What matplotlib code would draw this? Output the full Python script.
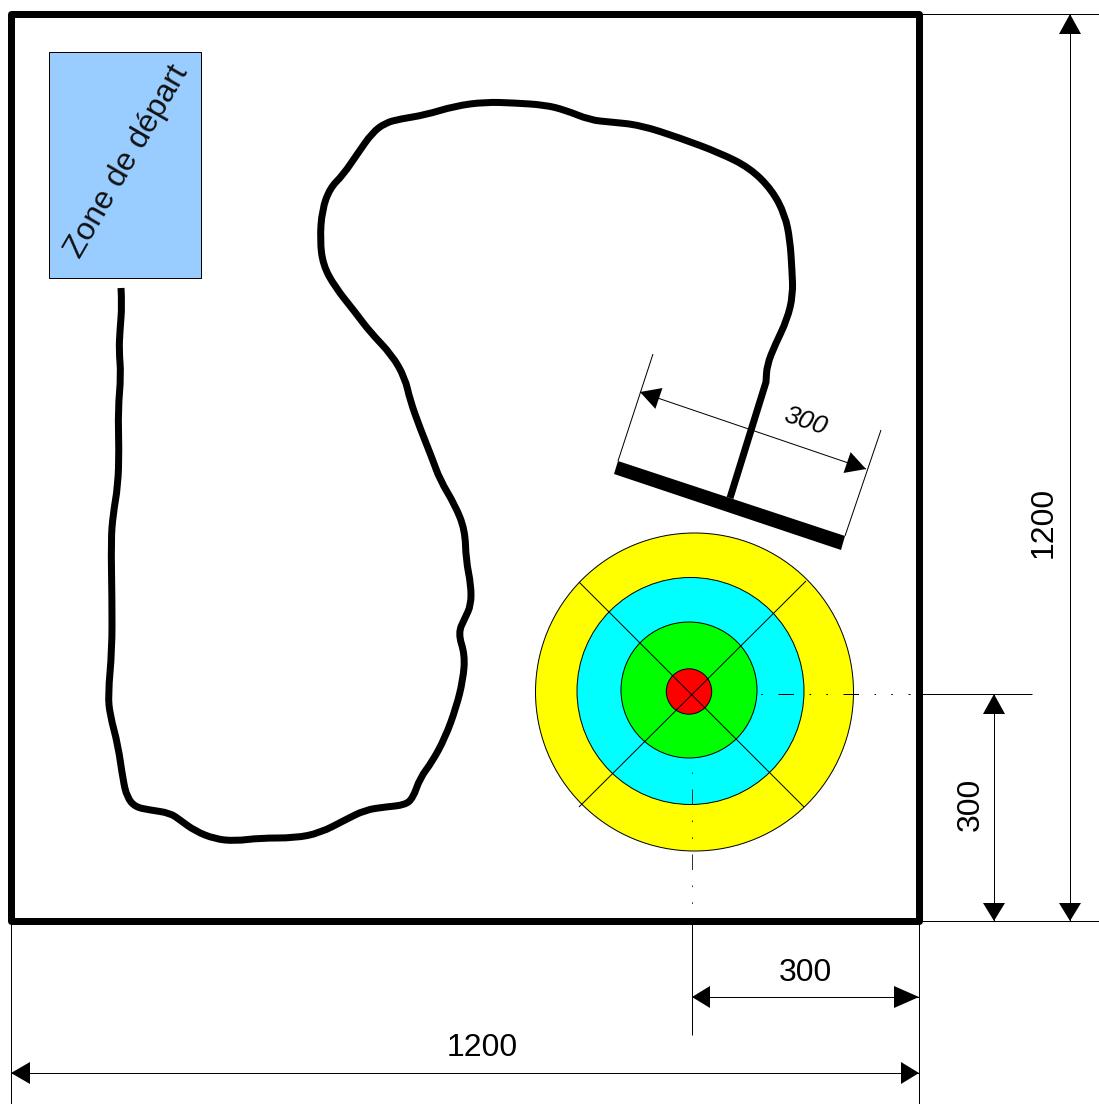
import matplotlib
matplotlib.use("Agg")
import matplotlib.pyplot as plt
import numpy as np
from matplotlib.path import Path
from matplotlib.patches import PathPatch, Circle, Rectangle, Polygon

plt.rcParams['font.family'] = ['Liberation Sans', 'DejaVu Sans']
plt.rcParams['lines.scale_dashes'] = False

W, H = 1099, 1104
PX = 0.72  # points per pixel at dpi 100

track_x = [121,122,120,119,121,118,119,118,113,111,112,112,108,110,118,123,127,135,150,170,180,195,215,235,260,295,320,345,365,385,405,413,420,432,445,456,463,465,458,465,471,471,466,465,455,440,432,420,410,405,392,370,355,335,323,320,322,330,343,358,372,385,400,425,455,485,515,545,565,590,610,640,680,720,750,772,785,790,792,793,787,775,767,766,766]
track_y = [288,305,330,350,375,410,450,485,515,540,600,650,695,715,745,780,797,807,810,813,820,831,839,841,838,838,833,820,810,807,805,798,778,762,738,708,680,655,633,618,605,585,560,530,505,480,458,428,400,378,355,332,312,287,265,240,210,188,175,153,133,123,119,115,106,102,103,105,110,120,122,125,138,153,168,190,215,240,270,295,320,345,365,382,382]
stem_x = [766, 730]
stem_y = [382, 498]

target_cx = [694.5, 690.5, 689, 689]
target_cy = [692, 691, 690, 691.5]
target_r = [159, 113.5, 68, 22.7]
target_colors = ['#ffff00', '#00ffff', '#00ff00', '#ff0000']
cross_x = [[579, 804], [806, 579]]
cross_y = [[582, 807], [581, 807]]

bar_x = [618, 845, 841, 614]
bar_y = [461, 536, 550, 474]

fig = plt.figure(figsize=(W/100, H/100), dpi=100)
ax = fig.add_axes([0, 0, 1, 1])
ax.set_xlim(0, W)
ax.set_ylim(H, 0)
ax.axis('off')


def thin(xs, ys, **kw):
    ax.plot(xs, ys, color='black', lw=1.0*PX, solid_capstyle='butt', **kw)


def head(tip, tail, length=20, width=22):
    tip = np.array(tip, float)
    tail = np.array(tail, float)
    d = (tail - tip) / np.linalg.norm(tail - tip)
    n = np.array([-d[1], d[0]])
    base = tip + d * length
    ax.add_patch(Polygon([tip, base + n*width/2, base - n*width/2],
                         closed=True, fc='black', ec='none', zorder=6))


def dim(a, b, la=20, lb=20):
    thin([a[0], b[0]], [a[1], b[1]], zorder=1)
    head(a, b, la)
    head(b, a, lb)


# start zone
ax.add_patch(Rectangle((49, 52), 151.5, 226, fc='#99ccff', ec='black', lw=1.0*PX, zorder=2))
ax.text(127, 162, 'Zone de départ', fontsize=23, rotation=60, rotation_mode='anchor',
        ha='center', va='center', color='#111111', zorder=3)

# target
for cx, cy, r, c in zip(target_cx, target_cy, target_r, target_colors):
    ax.add_patch(Circle((cx, cy), r, fc=c, ec='black', lw=1.0*PX, zorder=2))
for xs, ys in zip(cross_x, cross_y):
    thin(xs, ys, zorder=3)

# dash-dot centre lines
pattern = tuple(v*PX for v in (15.5, 15.5, 1.6, 15.2, 1.6, 15.6))
ax.plot([760, 910], [694, 694], color='black', lw=1.0*PX, zorder=4,
        linestyle=(47*PX, pattern), dash_capstyle='butt')
ax.plot([692, 692], [772, 910], color='#333333', lw=1.0*PX, zorder=4,
        linestyle=(48*PX, pattern), dash_capstyle='butt')

# track
verts = [(track_x[0], track_y[0])]
codes = [Path.MOVETO]
pts = list(zip(track_x, track_y))
for i in range(1, len(pts) - 1):
    mid = ((pts[i][0] + pts[i+1][0]) / 2, (pts[i][1] + pts[i+1][1]) / 2)
    verts += [pts[i], mid]
    codes += [Path.CURVE3, Path.CURVE3]
verts.append(pts[-1])
codes.append(Path.LINETO)
verts.append((stem_x[1], stem_y[1]))
codes.append(Path.LINETO)
ax.add_patch(PathPatch(Path(verts, codes), fc='none', ec='black', lw=7*PX,
                       joinstyle='round', capstyle='butt', zorder=5))
ax.add_patch(Polygon(list(zip(bar_x, bar_y)), closed=True, fc='black', ec='none', zorder=5))

# frame
ax.add_patch(Rectangle((11, 14), 907.5, 907, fc='none', ec='black', lw=7*PX,
                       joinstyle='round', zorder=7))

# dimensions: slanted
thin([653, 618], [354, 461], zorder=1)
thin([881, 845], [430, 536], zorder=1)
dim((640, 392), (866, 469), 20, 20)
ax.text(805, 421, '300', fontsize=19, style='italic', rotation=-18.5,
        rotation_mode='anchor', ha='center', va='center')

# dimensions: right
thin([922, W], [14, 14])
thin([922, W], [921, 921])
thin([919, 1032], [694, 694])
dim((1070, 14), (1070, 921), 20, 18)
dim((994, 694), (994, 921), 20, 18)
ax.text(1044, 522, '1200', fontsize=23, rotation=90, ha='center', va='center')
ax.text(971, 804, '300', fontsize=23, rotation=90, ha='center', va='center')

# dimensions: bottom
thin([11, 11], [924, H])
thin([919, 919], [924, H])
thin([692, 692], [924, 1035])
dim((692, 997), (919, 997), 18, 25)
dim((11, 1073), (919, 1073), 19, 18)
ax.text(805, 973, '300', fontsize=23, ha='center', va='center')
ax.text(482, 1048, '1200', fontsize=23, ha='center', va='center')

fig.savefig('out.png', dpi=100)
